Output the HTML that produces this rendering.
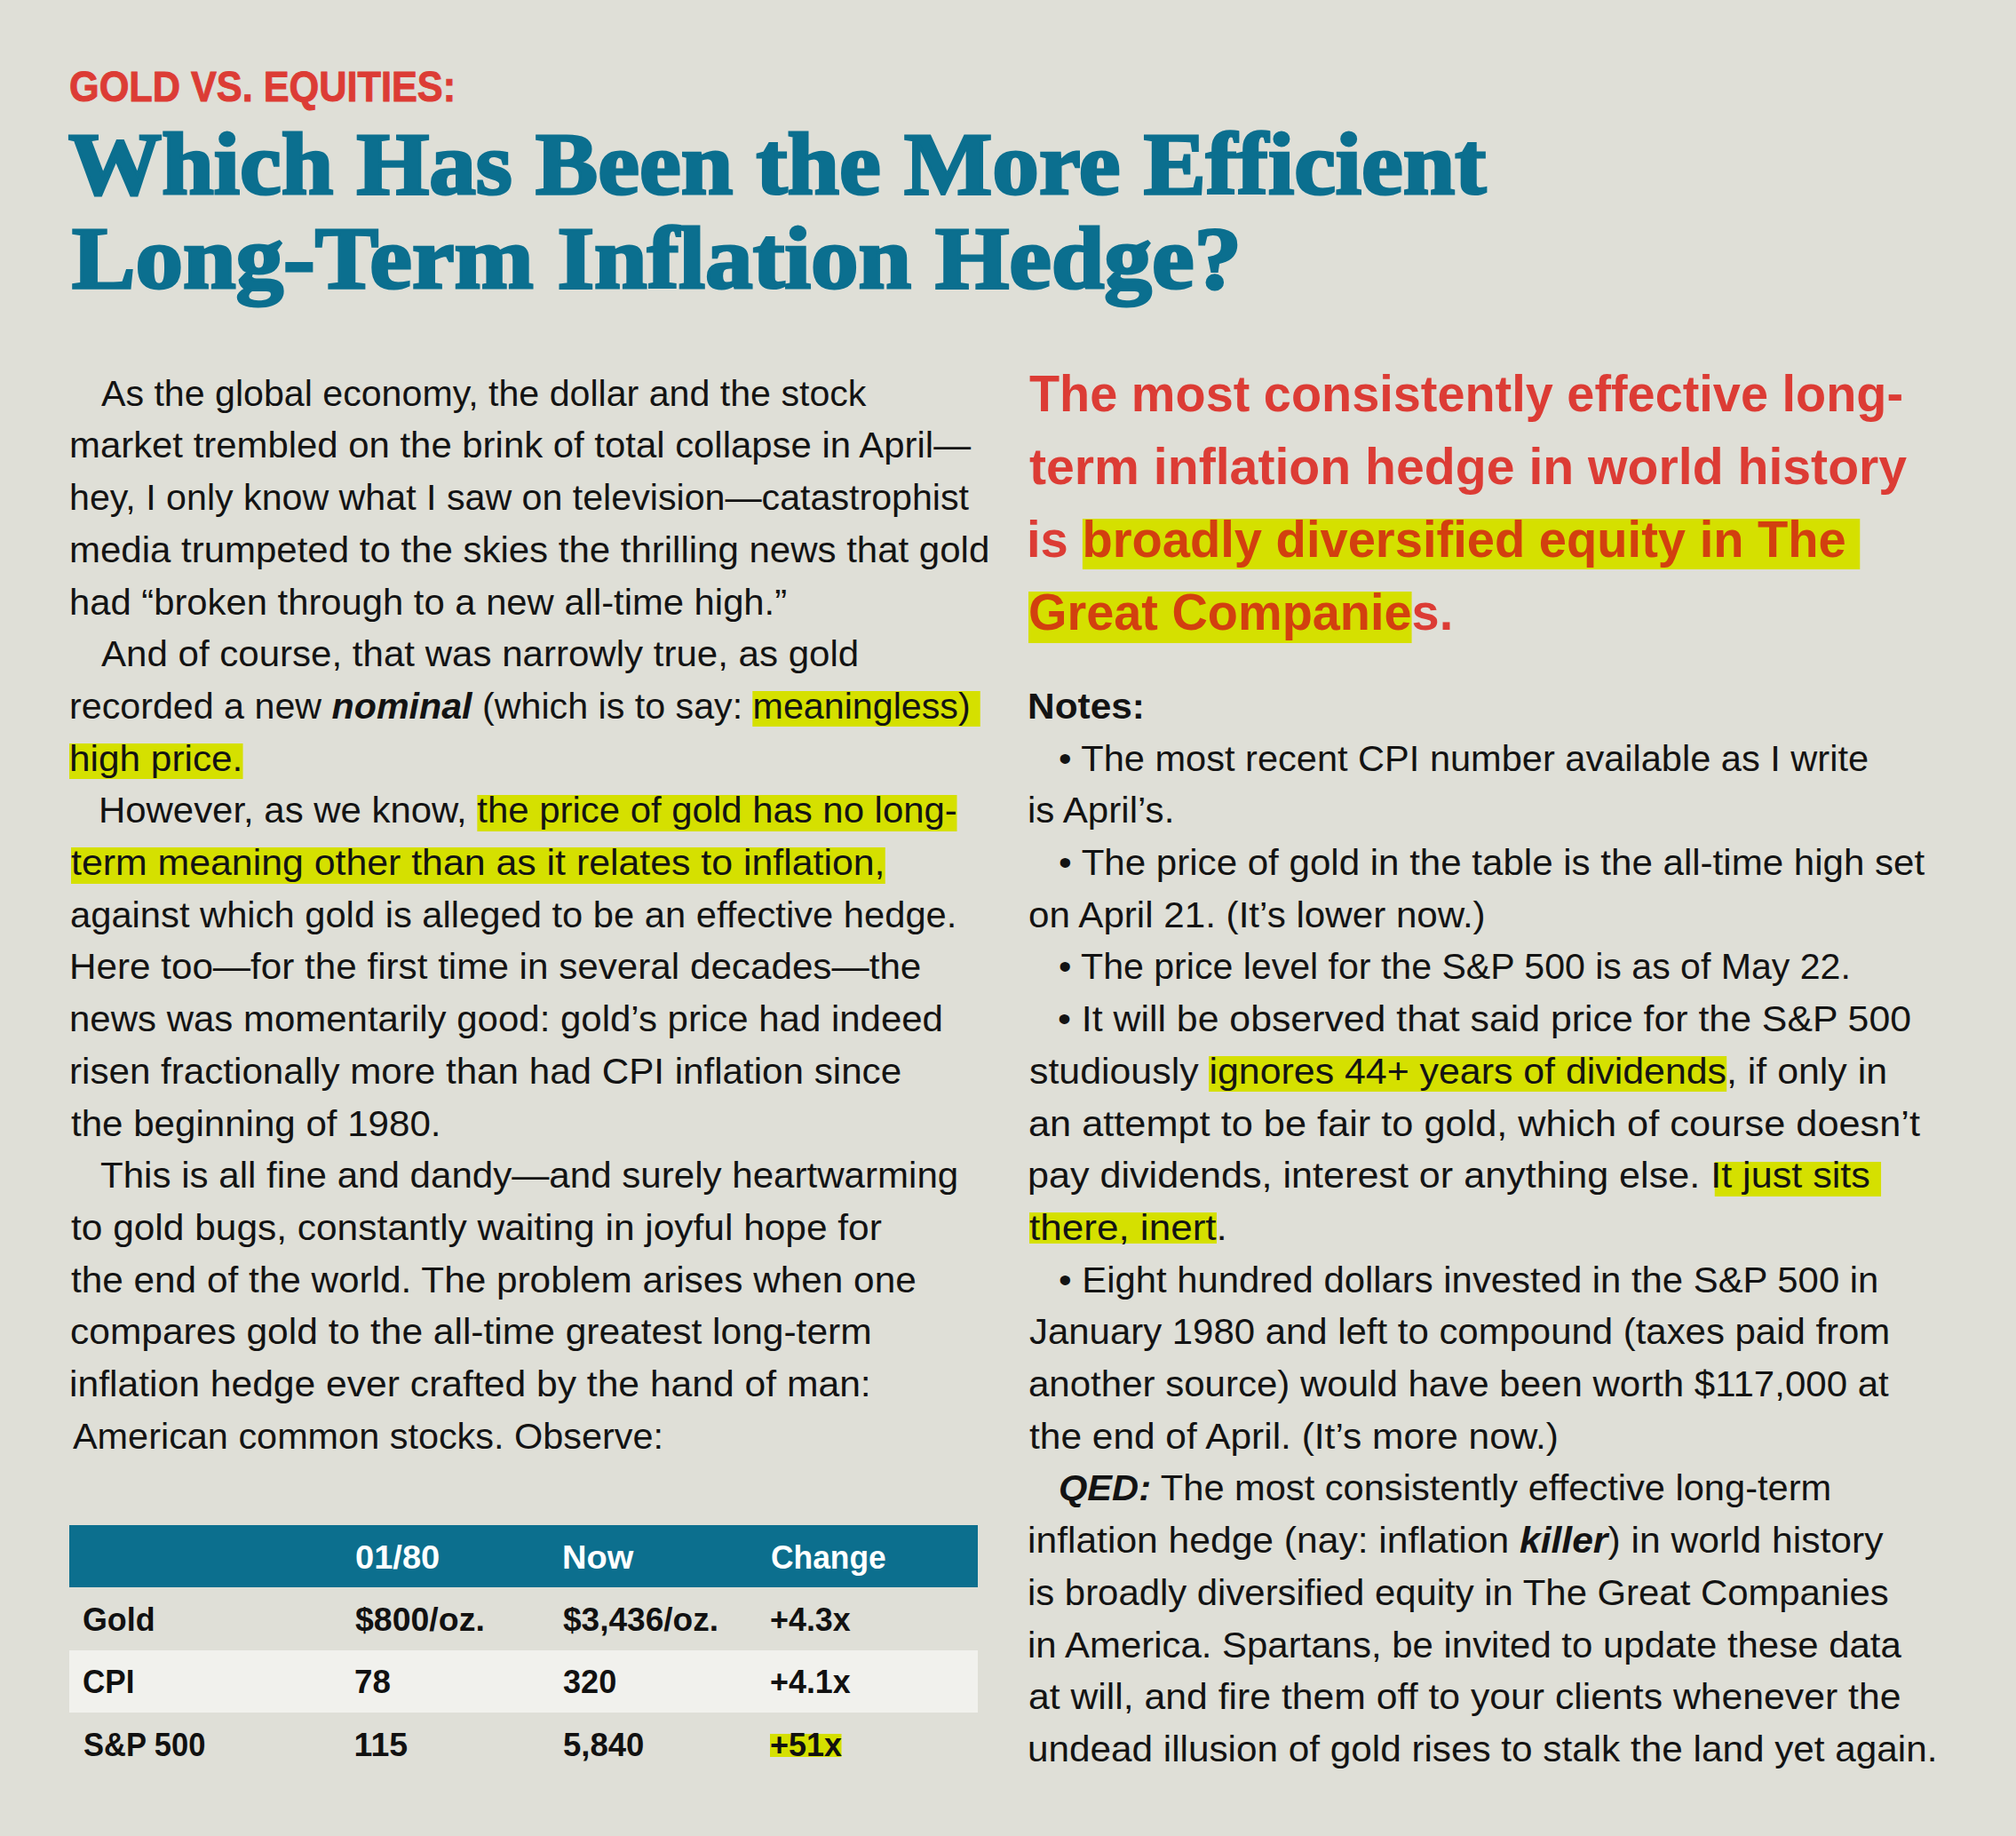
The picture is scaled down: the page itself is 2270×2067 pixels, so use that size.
<!DOCTYPE html><html><head><meta charset="utf-8"><title>Gold vs. Equities</title><style>
html,body{margin:0;padding:0;}body{width:2270px;height:2067px;background:#dfdfd7;position:relative;overflow:hidden;}
.r{position:absolute;}
.l{position:absolute;white-space:nowrap;transform-origin:0 0;}
.b{font:40.50px/1 'Liberation Sans',sans-serif;color:#131313;}
.pq{font:bold 58px/1 'Liberation Sans',sans-serif;color:#dc3c35;}
.k{font:bold 48px/1 'Liberation Sans',sans-serif;color:#dc3c35;-webkit-text-stroke:1px #dc3c35;}
.t{font:bold 100px/1 'Liberation Serif',serif;color:#0b6f8f;-webkit-text-stroke:3px #0b6f8f;}
.tb{font:bold 37.5px/1 'Liberation Sans',sans-serif;color:#111;}
.th{font:bold 36px/1 'Liberation Sans',sans-serif;color:#fff;}
.ph{color:#d2400f;}
.hl{background:linear-gradient(to bottom,transparent 6px,#d5e000 6px);padding-bottom:0.5px;}
.hs{background:linear-gradient(to bottom,transparent 8.3px,#d5e000 8.3px);margin-left:-7px;padding-left:7px;}
.hi{background:linear-gradient(to bottom,transparent 6px,#d5e000 6px,#d5e000 41.5px,transparent 41.5px);}
.hp{background:linear-gradient(to bottom,transparent 10px,#d5e000 10px);padding-bottom:2.5px;}
.ht{background:linear-gradient(to bottom,transparent 9.2px,#d5e000 9.2px,#d5e000 34.8px,transparent 34.8px);}
</style></head><body>
<div class="r" style="left:78.2px;top:1716.9px;width:1022.8px;height:69.9px;background:#0c6f8e"></div>
<div class="r" style="left:78.2px;top:1857.5px;width:1022.8px;height:70.2px;background:#f1f1ed"></div>
<div class="l k" style="left:78.20px;top:73.70px;transform:scaleX(0.9013);">GOLD VS. EQUITIES:</div>
<div class="l t" style="left:76.50px;top:135.00px;transform:scaleX(1.0520);">Which Has Been the More Efficient</div>
<div class="l t" style="left:81.00px;top:241.40px;transform:scaleX(1.0710);">Long-Term Inflation Hedge?</div>
<div class="l b" style="left:113.60px;top:422.70px;transform:scaleX(1.0158);">As the global economy, the dollar and the stock</div>
<div class="l b" style="left:78.40px;top:481.40px;transform:scaleX(1.0342);">market trembled on the brink of total collapse in April—</div>
<div class="l b" style="left:78.45px;top:540.10px;transform:scaleX(1.0166);">hey, I only know what I saw on television—catastrophist</div>
<div class="l b" style="left:78.39px;top:598.80px;transform:scaleX(1.0367);">media trumpeted to the skies the thrilling news that gold</div>
<div class="l b" style="left:78.41px;top:657.50px;transform:scaleX(1.0315);">had “broken through to a new all-time high.”</div>
<div class="l b" style="left:113.60px;top:716.20px;transform:scaleX(1.0383);">And of course, that was narrowly true, as gold</div>
<div class="l b" style="left:78.45px;top:774.90px;transform:scaleX(1.0176);">recorded a new <b><i>nominal</i></b> (which is to say: <span class=hl>meaningless)&nbsp;</span></div>
<div class="l b" style="left:78.36px;top:833.60px;transform:scaleX(1.0456);"><span class=hl>high price.</span></div>
<div class="l b" style="left:110.50px;top:892.30px;transform:scaleX(1.0348);">However, as we know, <span class=hl>the price of gold has no long-</span></div>
<div class="l b" style="left:80.44px;top:951.00px;transform:scaleX(1.0574);"><span class=hl>term meaning other than as it relates to inflation,</span></div>
<div class="l b" style="left:79.44px;top:1009.70px;transform:scaleX(1.0296);">against which gold is alleged to be an effective hedge.</div>
<div class="l b" style="left:78.37px;top:1068.40px;transform:scaleX(1.0420);">Here too—for the first time in several decades—the</div>
<div class="l b" style="left:78.39px;top:1127.10px;transform:scaleX(1.0365);">news was momentarily good: gold’s price had indeed</div>
<div class="l b" style="left:78.38px;top:1185.80px;transform:scaleX(1.0407);">risen fractionally more than had CPI inflation since</div>
<div class="l b" style="left:80.46px;top:1244.50px;transform:scaleX(1.0391);">the beginning of 1980.</div>
<div class="l b" style="left:112.56px;top:1303.20px;transform:scaleX(1.0393);">This is all fine and dandy—and surely heartwarming</div>
<div class="l b" style="left:80.45px;top:1361.90px;transform:scaleX(1.0477);">to gold bugs, constantly waiting in joyful hope for</div>
<div class="l b" style="left:80.46px;top:1420.60px;transform:scaleX(1.0446);">the end of the world. The problem arises when one</div>
<div class="l b" style="left:79.40px;top:1479.30px;transform:scaleX(1.0497);">compares gold to the all-time greatest long-term</div>
<div class="l b" style="left:78.34px;top:1538.00px;transform:scaleX(1.0523);">inflation hedge ever crafted by the hand of man:</div>
<div class="l b" style="left:81.50px;top:1596.70px;transform:scaleX(1.0224);">American common stocks. Observe:</div>
<div class="l b" style="left:1156.86px;top:774.90px;transform:scaleX(1.0471);"><b>Notes:</b></div>
<div class="l b" style="left:1191.55px;top:833.60px;transform:scaleX(1.0259);">• The most recent CPI number available as I write</div>
<div class="l b" style="left:1156.88px;top:892.30px;transform:scaleX(1.0395);">is April’s.</div>
<div class="l b" style="left:1191.52px;top:951.00px;transform:scaleX(1.0388);">• The price of gold in the table is the all-time high set</div>
<div class="l b" style="left:1157.92px;top:1009.70px;transform:scaleX(1.0408);">on April 21. (It’s lower now.)</div>
<div class="l b" style="left:1191.57px;top:1068.40px;transform:scaleX(1.0142);">• The price level for the S&amp;P 500 is as of May 22.</div>
<div class="l b" style="left:1191.49px;top:1127.10px;transform:scaleX(1.0567);">• It will be observed that said price for the S&amp;P 500</div>
<div class="l b" style="left:1158.94px;top:1185.80px;transform:scaleX(1.0582);">studiously <span class=hl>ignores 44+ years of dividends</span>, if only in</div>
<div class="l b" style="left:1157.86px;top:1244.50px;transform:scaleX(1.0694);">an attempt to be fair to gold, which of course doesn’t</div>
<div class="l b" style="left:1156.81px;top:1303.20px;transform:scaleX(1.0643);">pay dividends, interest or anything else. <span style='position:relative'>I</span><span class='hl hs'>t just sits&nbsp;</span></div>
<div class="l b" style="left:1158.91px;top:1361.90px;transform:scaleX(1.0875);"><span class='hl hi'>there, inert</span>.</div>
<div class="l b" style="left:1191.53px;top:1420.60px;transform:scaleX(1.0331);">• Eight hundred dollars invested in the S&amp;P 500 in</div>
<div class="l b" style="left:1158.97px;top:1479.30px;transform:scaleX(1.0349);">January 1980 and left to compound (taxes paid from</div>
<div class="l b" style="left:1157.92px;top:1538.00px;transform:scaleX(1.0376);">another source) would have been worth $117,000 at</div>
<div class="l b" style="left:1158.95px;top:1596.70px;transform:scaleX(1.0478);">the end of April. (It’s more now.)</div>
<div class="l b" style="left:1191.55px;top:1655.40px;transform:scaleX(1.0273);"><b><i>QED:</i></b> The most consistently effective long-term</div>
<div class="l b" style="left:1156.85px;top:1714.10px;transform:scaleX(1.0515);">inflation hedge (nay: inflation <b><i>killer</i></b>) in world history</div>
<div class="l b" style="left:1156.90px;top:1772.80px;transform:scaleX(1.0338);">is broadly diversified equity in The Great Companies</div>
<div class="l b" style="left:1156.89px;top:1831.50px;transform:scaleX(1.0354);">in America. Spartans, be invited to update these data</div>
<div class="l b" style="left:1157.89px;top:1890.20px;transform:scaleX(1.0550);">at will, and fire them off to your clients whenever the</div>
<div class="l b" style="left:1156.87px;top:1948.90px;transform:scaleX(1.0436);">undead illusion of gold rises to stalk the land yet again.</div>
<div class="l pq" style="left:1159.04px;top:413.70px;transform:scaleX(0.9632);">The most consistently effective long-</div>
<div class="l pq" style="left:1159.01px;top:495.60px;transform:scaleX(0.9860);">term inflation hedge in world history</div>
<div class="l pq" style="left:1156.13px;top:577.50px;transform:scaleX(0.9673);">is <span class='ph hp'>broadly diversified equity in The&nbsp;</span></div>
<div class="l pq" style="left:1158.07px;top:660.00px;transform:scaleX(0.9633);"><span class='ph hp'>Great Companie</span>s.</div>
<div class="l th" style="left:399.54px;top:1735.70px;transform:scaleX(1.0568);">01/80</div>
<div class="l th" style="left:632.69px;top:1735.70px;transform:scaleX(1.0554);">Now</div>
<div class="l th" style="left:868.22px;top:1735.70px;transform:scaleX(0.9823);">Change</div>
<div class="l tb" style="left:92.89px;top:1805.40px;transform:scaleX(0.9556);">Gold</div>
<div class="l tb" style="left:399.60px;top:1805.40px;transform:scaleX(0.9993);">$800/oz.</div>
<div class="l tb" style="left:633.81px;top:1805.40px;transform:scaleX(0.9879);">$3,436/oz.</div>
<div class="l tb" style="left:867.29px;top:1805.40px;transform:scaleX(0.9565);">+4.3x</div>
<div class="l tb" style="left:92.93px;top:1875.00px;transform:scaleX(0.9345);">CPI</div>
<div class="l tb" style="left:398.64px;top:1875.00px;transform:scaleX(0.9795);">78</div>
<div class="l tb" style="left:633.84px;top:1875.00px;transform:scaleX(0.9633);">320</div>
<div class="l tb" style="left:867.29px;top:1875.00px;transform:scaleX(0.9565);">+4.1x</div>
<div class="l tb" style="left:93.88px;top:1945.50px;transform:scaleX(0.9197);">S&amp;P 500</div>
<div class="l tb" style="left:398.60px;top:1945.50px;">115</div>
<div class="l tb" style="left:633.83px;top:1945.50px;transform:scaleX(0.9725);">5,840</div>
<div class="l tb" style="left:867.28px;top:1945.50px;transform:scaleX(0.9585);"><span class=ht>+51x</span></div>
</body></html>
